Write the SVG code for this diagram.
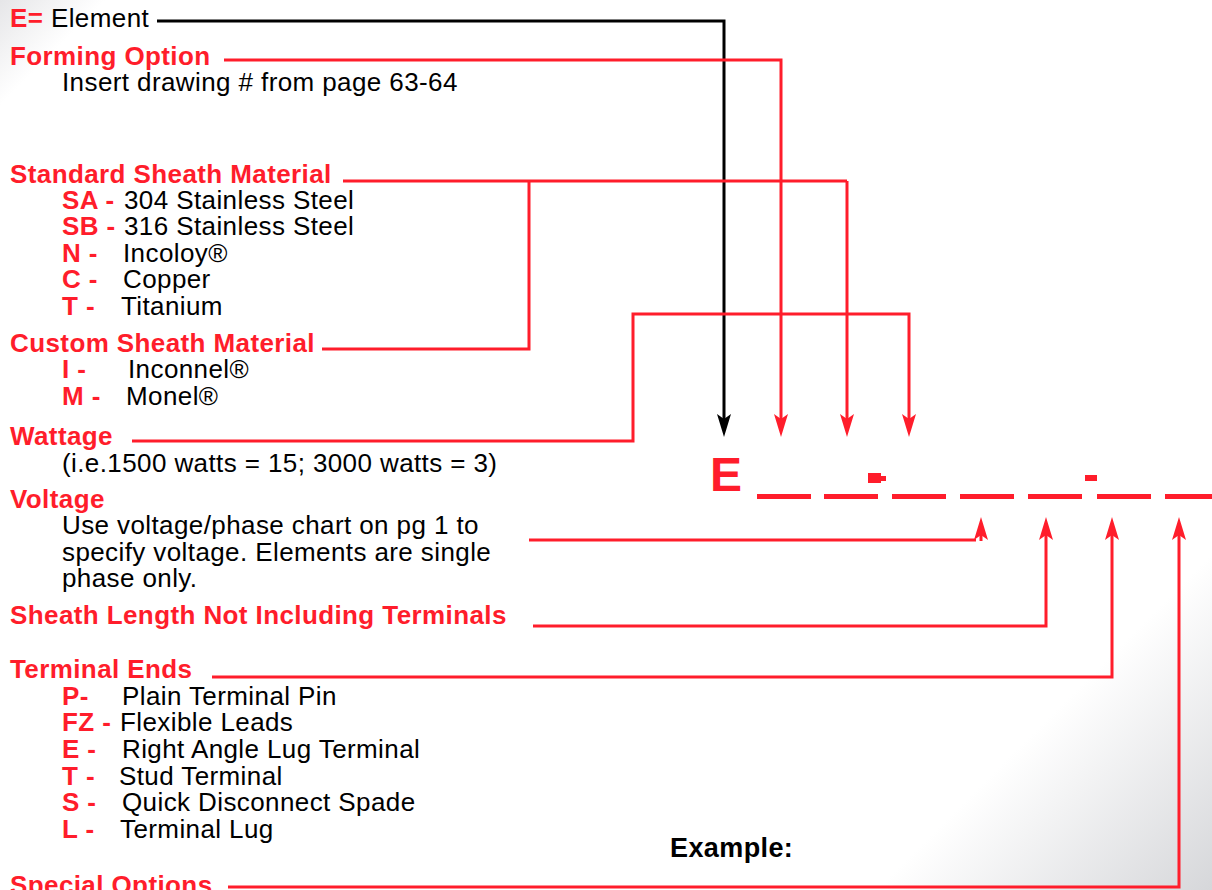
<svg xmlns="http://www.w3.org/2000/svg" width="1212" height="890" viewBox="0 0 1212 890">
<defs>
<linearGradient id="bg" gradientUnits="userSpaceOnUse" x1="0" y1="0" x2="1051" y2="1051">
<stop offset="0" stop-color="#e6e6e8"/>
<stop offset="0.05" stop-color="#ffffff"/>
<stop offset="0.84" stop-color="#ffffff"/>
<stop offset="1" stop-color="#d6d7da"/>
</linearGradient>
<marker id="ar" markerUnits="userSpaceOnUse" viewBox="0 0 23 14" refX="11" refY="7" markerWidth="23" markerHeight="14" orient="auto">
<path d="M0,0 L23,7 L0,14 L5,7 z" fill="#ff1d2b"/>
</marker>
<marker id="ak" markerUnits="userSpaceOnUse" viewBox="0 0 23 14" refX="11" refY="7" markerWidth="23" markerHeight="14" orient="auto">
<path d="M0,0 L23,7 L0,14 L5,7 z" fill="#000"/>
</marker>
<style>
text{font-family:"Liberation Sans",Arial,Helvetica,sans-serif;font-size:26px;letter-spacing:0.4px}
.h{font-weight:bold;fill:#ff1d2b}
.t{fill:#000}
.k{font-weight:bold;fill:#000;font-size:27px}
.r{fill:none;stroke:#ff1d2b;stroke-width:3}
.b{fill:none;stroke:#000;stroke-width:3}
.ra{marker-end:url(#ar)}
.d{fill:#ff1d2b}
</style>
</defs>
<rect x="0" y="0" width="1212" height="890" fill="url(#bg)"/>

<g id="connectors">
<path class="b" d="M157,21 H724 V425" marker-end="url(#ak)"/>
<path class="r ra" d="M224,60 H781 V425"/>
<path class="r" d="M343,181 H847"/>
<path class="r ra" d="M847,181 V425"/>
<path class="r" d="M322,349 H529 V181"/>
<path class="r ra" d="M132,441 H633 V314 H909 V425"/>
<path class="r" d="M529,540 H976"/>
<path class="r ra" d="M981,541 V529"/>
<path class="r ra" d="M533,626 H1046 V529"/>
<path class="r ra" d="M212,677 H1112 V529"/>
<path class="r ra" d="M228,887 H1179 V529"/>
</g>

<g id="element">
<text x="10" y="27"><tspan class="h">E=</tspan><tspan class="t"> Element</tspan></text>
</g>

<g id="forming">
<text class="h" x="10" y="65">Forming Option</text>
<text class="t" x="62" y="91">Insert drawing # from page 63-64</text>
</g>

<g id="standard-sheath">
<text class="h" x="10" y="183">Standard Sheath Material</text>
<text class="h" x="62" y="209">SA -</text><text class="t" x="124" y="209">304 Stainless Steel</text>
<text class="h" x="62" y="235">SB -</text><text class="t" x="124" y="235">316 Stainless Steel</text>
<text class="h" x="62" y="262">N -</text><text class="t" x="123" y="262">Incoloy®</text>
<text class="h" x="62" y="288">C -</text><text class="t" x="123" y="288">Copper</text>
<text class="h" x="62" y="315">T -</text><text class="t" x="121" y="315">Titanium</text>
</g>

<g id="custom-sheath">
<text class="h" x="10" y="352">Custom Sheath Material</text>
<text class="h" x="62" y="378">I -</text><text class="t" x="128" y="378">Inconnel®</text>
<text class="h" x="62" y="405">M -</text><text class="t" x="126" y="405">Monel®</text>
</g>

<g id="wattage">
<text class="h" x="10" y="445">Wattage</text>
<text class="t" x="62" y="472">(i.e.1500 watts = 15; 3000 watts = 3)</text>
</g>

<g id="voltage">
<text class="h" x="10" y="508">Voltage</text>
<text class="t" x="62" y="534">Use voltage/phase chart on pg 1 to</text>
<text class="t" x="62" y="561">specify voltage. Elements are single</text>
<text class="t" x="62" y="587">phase only.</text>
</g>

<g id="sheath-length">
<text class="h" x="10" y="624">Sheath Length Not Including Terminals</text>
</g>

<g id="terminal-ends">
<text class="h" x="10" y="678">Terminal Ends</text>
<text class="h" x="62" y="705">P-</text><text class="t" x="122" y="705">Plain Terminal Pin</text>
<text class="h" x="62" y="731">FZ -</text><text class="t" x="120" y="731">Flexible Leads</text>
<text class="h" x="62" y="758">E -</text><text class="t" x="122" y="758">Right Angle Lug Terminal</text>
<text class="h" x="62" y="785">T -</text><text class="t" x="119" y="785">Stud Terminal</text>
<text class="h" x="62" y="811">S -</text><text class="t" x="122" y="811">Quick Disconnect Spade</text>
<text class="h" x="62" y="838">L -</text><text class="t" x="120" y="838">Terminal Lug</text>
</g>

<g id="special-options">
<text class="h" x="10" y="894">Special Options</text>
</g>

<g id="example">
<text class="k" x="670" y="857">Example:</text>
</g>

<g id="code">
<text class="h" x="710" y="491" style="font-size:48px;letter-spacing:0">E</text>
<rect class="d" x="757" y="494" width="54" height="5"/>
<rect class="d" x="824" y="494" width="54" height="5"/>
<rect class="d" x="892" y="494" width="54" height="5"/>
<rect class="d" x="960" y="494" width="54" height="5"/>
<rect class="d" x="1028" y="494" width="54" height="5"/>
<rect class="d" x="1097" y="494" width="54" height="5"/>
<rect class="d" x="1165" y="494" width="54" height="5"/>
<rect class="d" x="868" y="473" width="13" height="10"/>
<rect class="d" x="880" y="476" width="6" height="5"/>
<rect class="d" x="1085" y="475" width="12" height="6"/>
</g>
</svg>
